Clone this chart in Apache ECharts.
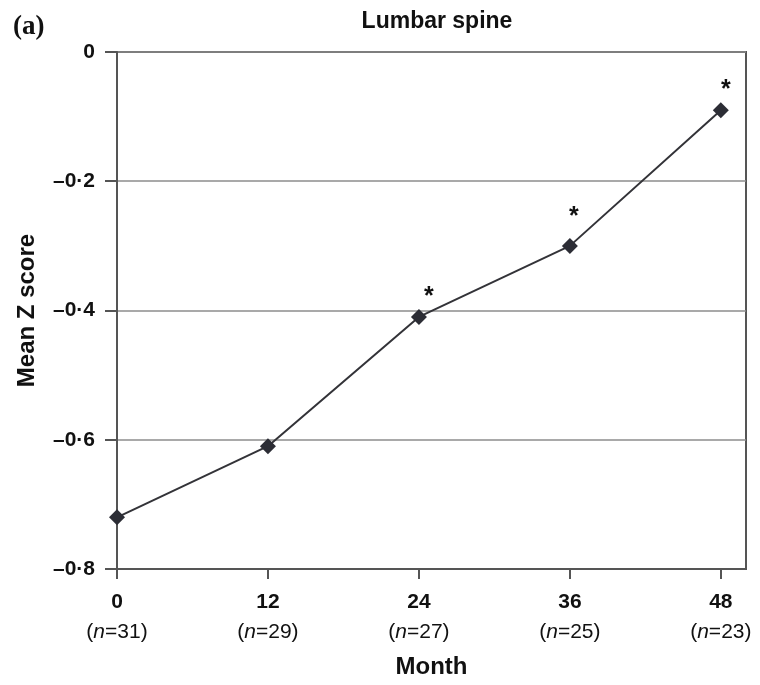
<!DOCTYPE html>
<html>
<head>
<meta charset="utf-8">
<script src="https://cdn.jsdelivr.net/npm/echarts@6/dist/echarts.min.js"></script>
<style>
html,body{margin:0;padding:0;background:#fff;}
#chart{width:760px;height:685px;}
</style>
</head>
<body>
<div id="chart"></div>
<script>
// ---- data ----
var months = [0, 12, 24, 36, 48];
var meanZ = [-0.72, -0.61, -0.41, -0.30, -0.09];
var nCounts = [31, 29, 27, 25, 23];
var significant = [false, false, true, true, true];
var yTicks = [0, -0.2, -0.4, -0.6, -0.8];
var yTickLabels = ['0', '\u20130\u00b72', '\u20130\u00b74', '\u20130\u00b76', '\u20130\u00b78'];

// asterisk offsets (styling)
var starOffsets = [[0, 0], [0, 0], [10, -20], [4, -29], [5, -20]];

var FONT = 'Liberation Sans, Arial, Helvetica, sans-serif';

var seriesData = months.map(function (m, i) {
  var item = { value: [m, meanZ[i]] };
  if (significant[i]) {
    item.label = {
      show: true,
      formatter: '*',
      position: 'inside',
      offset: starOffsets[i],
      fontSize: 25,
      fontWeight: 'bold',
      fontFamily: FONT,
      color: '#111'
    };
  }
  return item;
});

var chart = echarts.init(document.getElementById('chart'), null, { renderer: 'canvas' });
chart.setOption({
  backgroundColor: '#ffffff',
  animation: false,
  title: {
    text: 'Lumbar spine',
    left: 432,
    textAlign: 'center',
    top: 5,
    textStyle: { fontFamily: FONT, fontWeight: 'bold', fontSize: 23, color: '#111' }
  },
  graphic: [{
    type: 'text',
    left: 13,
    top: 14,
    style: { text: '(a)', font: 'bold 27px "Liberation Serif", "Times New Roman", serif', fill: '#111' }
  }],
  grid: {
    left: 117, right: 14, top: 52, bottom: 116,
    show: true, borderColor: '#555', borderWidth: 2, backgroundColor: 'transparent'
  },
  xAxis: {
    type: 'value',
    min: 0, max: 50, interval: 12,
    name: 'Month',
    nameLocation: 'middle',
    nameGap: 86,
    nameTextStyle: { fontFamily: FONT, fontWeight: 'bold', fontSize: 24, color: '#111' },
    axisLine: { show: true, onZero: false, lineStyle: { color: '#555', width: 2 } },
    axisTick: { show: true, length: 10, lineStyle: { color: '#555', width: 2 }, customValues: months },
    splitLine: { show: false },
    axisLabel: {
      customValues: months,
      margin: 18,
      formatter: function (v) {
        var i = months.indexOf(v);
        if (i < 0) return '';
        return '{m|' + v + '}\n{p|(}{i|n}{p|=' + nCounts[i] + ')}';
      },
      rich: {
        m: { fontFamily: FONT, fontWeight: 'bold', fontSize: 21, color: '#111', lineHeight: 30 },
        p: { fontFamily: FONT, fontSize: 21, color: '#111', lineHeight: 30 },
        i: { fontFamily: FONT, fontSize: 21, fontStyle: 'italic', color: '#111', lineHeight: 30 }
      }
    }
  },
  yAxis: {
    type: 'value',
    min: -0.8, max: 0, interval: 0.2,
    name: 'Mean Z score',
    nameLocation: 'middle',
    nameGap: 78,
    nameTextStyle: { fontFamily: FONT, fontWeight: 'bold', fontSize: 24, color: '#111' },
    axisLine: { show: true, onZero: false, lineStyle: { color: '#555', width: 2 } },
    axisTick: { show: true, length: 12, lineStyle: { color: '#555', width: 2 } },
    splitLine: { show: true, lineStyle: { color: '#8c8c8c', width: 1.5 } },
    axisLabel: {
      margin: 22,
      fontFamily: FONT, fontWeight: 'bold', fontSize: 21, color: '#111',
      formatter: function (v) {
        for (var k = 0; k < yTicks.length; k++) {
          if (Math.abs(yTicks[k] - v) < 1e-6) return yTickLabels[k];
        }
        return '';
      }
    }
  },
  series: [{
    type: 'line',
    data: seriesData,
    symbol: 'diamond',
    symbolSize: 16,
    itemStyle: { color: '#2c2d35' },
    lineStyle: { color: '#333338', width: 2 },
    label: { show: false },
    z: 5
  }]
});
</script>
</body>
</html>
